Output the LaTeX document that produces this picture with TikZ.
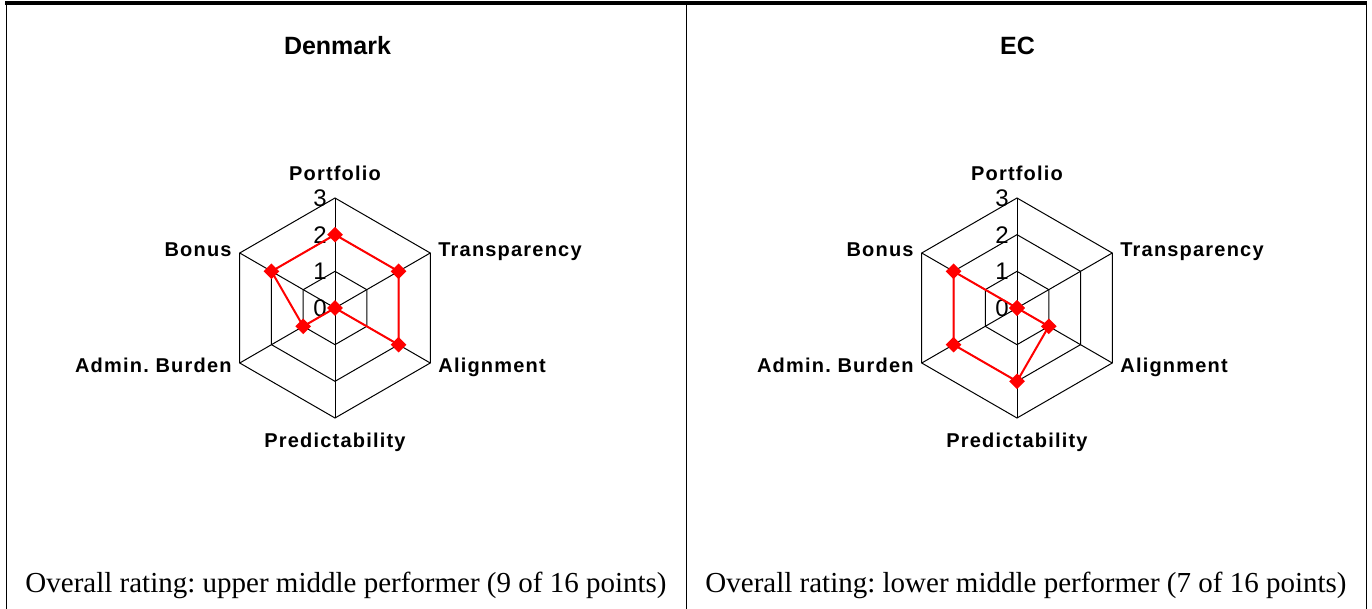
\documentclass[tikz,border=0pt]{standalone}
\usepackage{fontspec}
\setmainfont{Liberation Serif}
\setsansfont{Liberation Sans}
\newfontfamily\axisfont[LetterSpace=6]{Liberation Sans}
\usetikzlibrary{positioning, shapes.geometric}
\frenchspacing
\tikzstyle{frame} = [draw=black, line width=0.5pt]
\tikzstyle{web} = [draw=black, line width=0.5pt]
\tikzstyle{series} = [draw=red, line width=1pt]
\tikzstyle{marker} = [diamond, fill=red, inner sep=0pt, minimum size=8pt]
\tikzstyle{axislabel} = [font=\axisfont\bfseries\fontsize{10}{12}\selectfont, inner sep=2pt]
\tikzstyle{tick} = [font=\sffamily\fontsize{12}{14}\selectfont, anchor=east, inner sep=0pt]
\tikzstyle{title} = [font=\sffamily\bfseries\fontsize{12.5}{15}\selectfont, anchor=base]
\tikzstyle{rating} = [font=\fontsize{14.5}{17}\selectfont, anchor=base]

\begin{document}
\begin{tikzpicture}[x=0.5pt, y=0.5pt]
\useasboundingbox (0,0) rectangle (1372,-609);
% table lines
\draw [line width=2pt] (5,-3) -- (1367,-3);
\draw [frame] (6,-3) -- (6,-609);
\draw [frame] (686,-3) -- (686,-609);
\draw [frame] (1366,-3) -- (1366,-609);

% Denmark
\node (dk_title) [title] at (337.5,-55) {Denmark};
\begin{scope}[shift={(335,-308)}]
  \foreach \r in {36.67,73.33,110}
    \draw [web] (90:\r) -- (30:\r) -- (-30:\r) -- (-90:\r) -- (210:\r) -- (150:\r) -- cycle;
  \foreach \a in {90,30,-30,-90,210,150}
    \draw [web] (0,0) -- (\a:110);
  \node (dk_tick0) [tick] at (-8,0) {0};
  \node (dk_tick1) [tick] at (-8,36.67) {1};
  \node (dk_tick2) [tick] at (-8,73.33) {2};
  \node (dk_tick3) [tick] at (-8,110) {3};
  \node (dk_portfolio_label) [axislabel, anchor=base] at (0,127) {Portfolio};
  \node (dk_transparency_label) [axislabel, anchor=base west] at (99,51) {Transparency};
  \node (dk_alignment_label) [axislabel, anchor=base west] at (99,-64) {Alignment};
  \node (dk_predictability_label) [axislabel, anchor=base] at (0,-139) {Predictability};
  \node (dk_burden_label) [axislabel, anchor=base east] at (-99,-64) {Admin. Burden};
  \node (dk_bonus_label) [axislabel, anchor=base east] at (-99,51) {Bonus};
  \node (dk_portfolio) [marker] at (90:73.33) {};
  \node (dk_transparency) [marker] at (30:73.33) {};
  \node (dk_alignment) [marker] at (-30:73.33) {};
  \node (dk_predictability) [marker] at (0,0) {};
  \node (dk_burden) [marker] at (210:36.67) {};
  \node (dk_bonus) [marker] at (150:73.33) {};
  \draw [series] (dk_portfolio.center) -- (dk_transparency.center) -- (dk_alignment.center)
    -- (dk_predictability.center) -- (dk_burden.center) -- (dk_bonus.center) -- cycle;
\end{scope}
\node (dk_rating) [rating] at (346,-592) {Overall rating: upper middle performer (9 of 16 points)};

% EC
\node (ec_title) [title] at (1017.5,-55) {EC};
\begin{scope}[shift={(1017,-308)}]
  \foreach \r in {36.67,73.33,110}
    \draw [web] (90:\r) -- (30:\r) -- (-30:\r) -- (-90:\r) -- (210:\r) -- (150:\r) -- cycle;
  \foreach \a in {90,30,-30,-90,210,150}
    \draw [web] (0,0) -- (\a:110);
  \node (ec_tick0) [tick] at (-8,0) {0};
  \node (ec_tick1) [tick] at (-8,36.67) {1};
  \node (ec_tick2) [tick] at (-8,73.33) {2};
  \node (ec_tick3) [tick] at (-8,110) {3};
  \node (ec_portfolio_label) [axislabel, anchor=base] at (0,127) {Portfolio};
  \node (ec_transparency_label) [axislabel, anchor=base west] at (99,51) {Transparency};
  \node (ec_alignment_label) [axislabel, anchor=base west] at (99,-64) {Alignment};
  \node (ec_predictability_label) [axislabel, anchor=base] at (0,-139) {Predictability};
  \node (ec_burden_label) [axislabel, anchor=base east] at (-99,-64) {Admin. Burden};
  \node (ec_bonus_label) [axislabel, anchor=base east] at (-99,51) {Bonus};
  \node (ec_portfolio) [marker] at (0,0) {};
  \node (ec_transparency) [marker] at (0,0) {};
  \node (ec_alignment) [marker] at (-30:36.67) {};
  \node (ec_predictability) [marker] at (-90:73.33) {};
  \node (ec_burden) [marker] at (210:73.33) {};
  \node (ec_bonus) [marker] at (150:73.33) {};
  \draw [series] (ec_portfolio.center) -- (ec_transparency.center) -- (ec_alignment.center)
    -- (ec_predictability.center) -- (ec_burden.center) -- (ec_bonus.center) -- cycle;
\end{scope}
\node (ec_rating) [rating] at (1026,-592) {Overall rating: lower middle performer (7 of 16 points)};
\end{tikzpicture}
\end{document}
